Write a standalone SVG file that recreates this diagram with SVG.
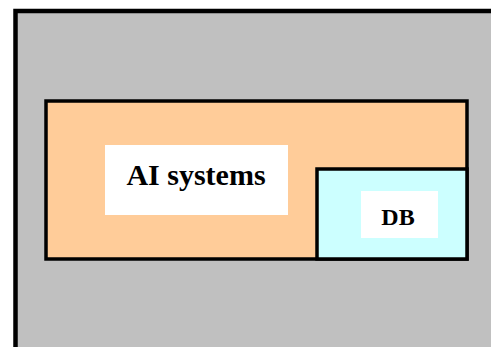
<svg xmlns="http://www.w3.org/2000/svg" width="491" height="347" viewBox="0 0 491 347">
<style>
.box{stroke:#000;}
.lbl{font-family:"Liberation Serif","Times New Roman",serif;font-weight:bold;fill:#000;text-anchor:middle;}
</style>
<rect width="491" height="347" fill="#fff"/>
<g id="outer">
<rect class="box" x="15.5" y="11" width="500" height="360" fill="#c0c0c0" stroke-width="4.5"/>
</g>
<g id="ai-systems">
<rect class="box" x="46" y="101" width="421" height="158" fill="#ffcc99" stroke-width="3.5"/>
<rect x="105" y="145" width="183" height="70" fill="#fff"/>
<text class="lbl" x="196" y="185" font-size="30">AI systems</text>
</g>
<g id="db">
<rect class="box" x="317" y="169" width="150" height="90" fill="#ccffff" stroke-width="3.5"/>
<rect x="361" y="191" width="77" height="47" fill="#fff"/>
<text class="lbl" x="398" y="225" font-size="24">DB</text>
</g>
<g id="connectors"/>
</svg>
